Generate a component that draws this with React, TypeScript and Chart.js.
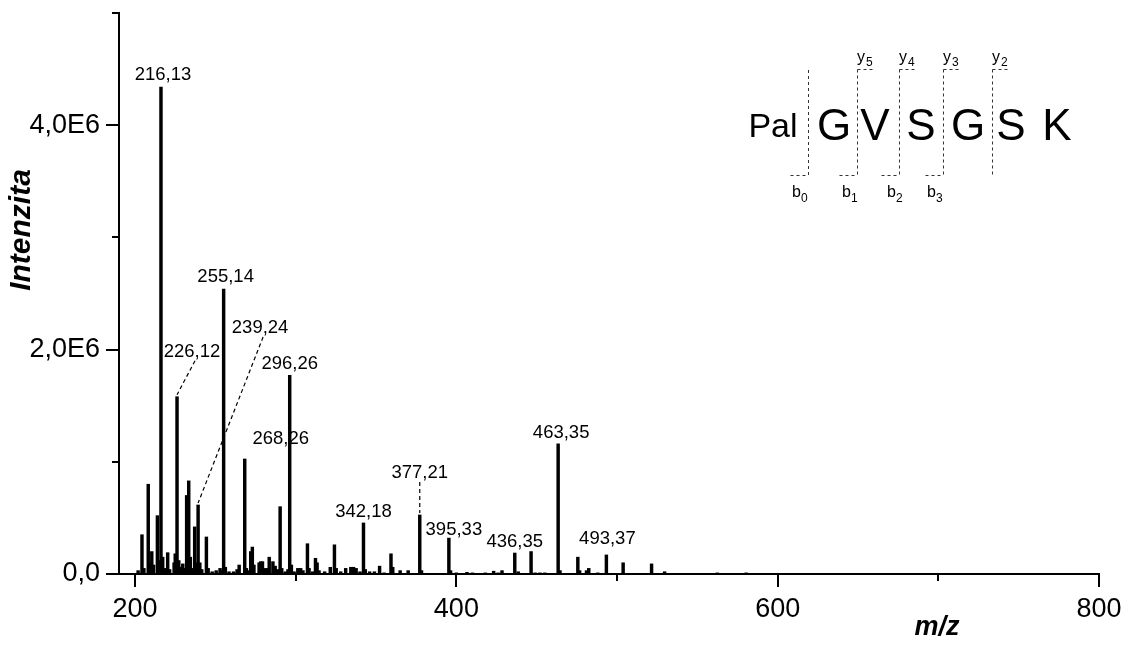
import React, { useEffect, useRef } from 'react';
import { Chart, registerables } from 'chart.js';

Chart.register(...registerables);

// ---- Data ----
const mzValues = [
  201.9, 204.3, 205.5, 208.2, 209.3, 210.4, 211.5, 213.9, 215.0, 216.13,
  217.2, 218.3, 220.3, 221.5, 224.3, 225.0, 226.12, 227.2, 228.3, 229.7,
  231.2, 232.1, 233.4, 234.4, 235.5, 237.1, 238.2, 239.24, 240.3, 241.5,
  244.4, 245.5, 248.0, 250.5, 252.9, 254.0, 255.14, 256.2, 258.5, 261.3,
  263.5, 264.8, 268.26, 269.3, 270.5, 272.0, 273.0, 274.0, 277.2, 278.2,
  279.3, 280.5, 282.5, 283.5, 285.8, 287.2, 288.5, 290.3, 291.3, 293.5,
  295.2, 296.26, 297.3, 299.0, 301.3, 303.1, 304.5, 307.3, 308.3, 310.5,
  312.3, 313.3, 314.5, 318.0, 321.5, 324.1, 325.2, 328.0, 331.1, 334.3,
  336.0, 337.6, 340.0, 342.18, 343.3, 346.0, 349.0, 352.2, 355.0, 359.3,
  360.4, 365.0, 370.0, 377.21, 378.3, 395.33, 396.4, 400.0, 406.6, 410.0,
  418.0, 423.2, 426.0, 428.4, 436.35, 438.5, 446.5, 449.0, 452.0, 455.0,
  463.35, 464.5, 475.6, 476.7, 481.0, 482.4, 488.0, 493.37, 503.8, 521.5,
  529.6, 545.0, 562.4, 570.0, 580.4,
];

const intensities = [
  0.03e6, 0.35e6, 0.05e6, 0.80e6, 0.10e6, 0.20e6, 0.08e6, 0.52e6, 0.12e6, 4.34e6,
  0.15e6, 0.05e6, 0.19e6, 0.04e6, 0.10e6, 0.18e6, 1.58e6, 0.12e6, 0.06e6, 0.09e6,
  0.05e6, 0.70e6, 0.83e6, 0.15e6, 0.05e6, 0.42e6, 0.10e6, 0.615e6, 0.10e6, 0.04e6,
  0.33e6, 0.05e6, 0.02e6, 0.03e6, 0.05e6, 0.03e6, 2.54e6, 0.06e6, 0.02e6, 0.02e6,
  0.04e6, 0.08e6, 1.025e6, 0.05e6, 0.03e6, 0.20e6, 0.24e6, 0.08e6, 0.10e6, 0.11e6,
  0.11e6, 0.05e6, 0.05e6, 0.15e6, 0.11e6, 0.07e6, 0.04e6, 0.60e6, 0.05e6, 0.02e6,
  0.04e6, 1.77e6, 0.08e6, 0.02e6, 0.05e6, 0.05e6, 0.03e6, 0.27e6, 0.05e6, 0.02e6,
  0.14e6, 0.10e6, 0.03e6, 0.02e6, 0.06e6, 0.26e6, 0.05e6, 0.02e6, 0.05e6, 0.06e6,
  0.06e6, 0.05e6, 0.02e6, 0.455e6, 0.04e6, 0.02e6, 0.02e6, 0.07e6, 0.01e6, 0.18e6,
  0.06e6, 0.03e6, 0.03e6, 0.526e6, 0.03e6, 0.32e6, 0.03e6, 0.01e6, 0.015e6, 0.01e6,
  0.01e6, 0.025e6, 0.01e6, 0.03e6, 0.187e6, 0.02e6, 0.20e6, 0.01e6, 0.01e6, 0.01e6,
  1.16e6, 0.03e6, 0.15e6, 0.03e6, 0.03e6, 0.05e6, 0.01e6, 0.17e6, 0.10e6, 0.09e6,
  0.02e6, 0.005e6, 0.01e6, 0.005e6, 0.01e6,
];

const labeledMz = [216.13, 226.12, 239.24, 255.14, 268.26, 296.26, 342.18, 377.21, 395.33, 436.35, 463.35, 493.37];
const labelTexts = ['216,13', '226,12', '239,24', '255,14', '268,26', '296,26', '342,18', '377,21', '395,33', '436,35', '463,35', '493,37'];

const xTickValues = [200, 300, 400, 500, 600, 700, 800];
const xMajorTicks = [200, 400, 600, 800];
const yTickValues = [0, 1e6, 2e6, 3e6, 4e6, 5e6];
const yMajorTicks = [0, 2e6, 4e6];
const yTickLabels = ['0,0', '2,0E6', '4,0E6'];

const residues = ['G', 'V', 'S', 'G', 'S', 'K'];
const bIons = ['0', '1', '2', '3'];
const yIons = ['5', '4', '3', '2'];

// ---- Layout (pixel offsets of annotations, not data) ----
const labelLayout = [
  { dx: 2, dy: -14, line: false },
  { dx: 15, dy: -46, line: true },
  { dx: 62, dy: -178, line: true },
  { dx: 2, dy: -14, line: false },
  { dx: 36, dy: -21, line: false },
  { dx: 0, dy: -13, line: false },
  { dx: 0, dy: -12, line: false },
  { dx: 0, dy: -43, line: true },
  { dx: 5, dy: -10, line: false },
  { dx: 0, dy: -13, line: false },
  { dx: 3, dy: -12, line: false },
  { dx: 1, dy: -17, line: false },
];

const FONT = "'Liberation Sans', Arial, Helvetica, sans-serif";

const overlayPlugin = {
  id: 'overlay',
  afterDraw(chart: any) {
    const ctx: CanvasRenderingContext2D = chart.ctx;
    const xs = chart.scales.x;
    const ys = chart.scales.y;
    ctx.save();
    ctx.strokeStyle = '#000';
    ctx.fillStyle = '#000';
    ctx.lineWidth = 2;

    // axis ticks
    xs.ticks.forEach((t: any) => {
      const major = xMajorTicks.includes(t.value);
      const px = Math.round(xs.getPixelForValue(t.value));
      ctx.beginPath();
      ctx.moveTo(px, ys.bottom);
      ctx.lineTo(px, ys.bottom + (major ? 13 : 7));
      ctx.stroke();
    });
    ys.ticks.forEach((t: any) => {
      const major = yMajorTicks.includes(t.value);
      const py = Math.round(ys.getPixelForValue(t.value));
      ctx.beginPath();
      ctx.moveTo(xs.left, py);
      ctx.lineTo(xs.left - (major ? 13 : 7), py);
      ctx.stroke();
    });

    // peak labels
    ctx.font = `18.5px ${FONT}`;
    ctx.textAlign = 'center';
    ctx.textBaseline = 'alphabetic';
    labeledMz.forEach((mz, i) => {
      const idx = mzValues.indexOf(mz);
      const px = xs.getPixelForValue(mz);
      const top = ys.getPixelForValue(intensities[idx]);
      const lay = labelLayout[i];
      const cx = px + lay.dx;
      const cy = top + lay.dy;
      ctx.fillText(labelTexts[i], cx, cy + 6.5);
      if (lay.line) {
        ctx.save();
        ctx.lineWidth = 1.2;
        ctx.setLineDash([4, 3]);
        ctx.beginPath();
        ctx.moveTo(cx + (lay.dx > 5 ? 3 : 0), cy + 10);
        ctx.lineTo(px, top - 2);
        ctx.stroke();
        ctx.restore();
      }
    });

    // axis titles
    ctx.font = `bold italic 27px ${FONT}`;
    ctx.textAlign = 'center';
    ctx.textBaseline = 'middle';
    ctx.fillText('m/z', 937, 628);
    ctx.save();
    ctx.translate(22, 230);
    ctx.rotate(-Math.PI / 2);
    ctx.font = `bold italic 30px ${FONT}`;
    ctx.fillText('Intenzita', 0, 0);
    ctx.restore();

    // sequence inset
    ctx.textAlign = 'center';
    ctx.textBaseline = 'alphabetic';
    ctx.font = `34px ${FONT}`;
    ctx.fillText('Pal', 773, 137);
    const resX = [834, 875, 921, 968, 1011, 1057];
    ctx.font = `44px ${FONT}`;
    residues.forEach((r, i) => ctx.fillText(r, resX[i], 140));

    ctx.save();
    ctx.strokeStyle = '#333';
    ctx.lineWidth = 1;
    ctx.setLineDash([3, 3]);
    const cut = [808.5, 857.5, 899.5, 943.5, 992.5];
    cut.forEach((x, i) => {
      ctx.beginPath();
      ctx.moveTo(x, i === 0 ? 70 : 69.5);
      ctx.lineTo(x, 175.5);
      ctx.stroke();
      if (i > 0) {
        ctx.beginPath();
        ctx.moveTo(x, 69.5);
        ctx.lineTo(x + 17, 69.5);
        ctx.stroke();
      }
      if (i < 4) {
        ctx.beginPath();
        ctx.moveTo(x - 18, 175.5);
        ctx.lineTo(x, 175.5);
        ctx.stroke();
      }
    });
    ctx.restore();

    ctx.textAlign = 'left';
    const yX = [857, 899, 943, 992];
    yIons.forEach((n, i) => {
      ctx.font = `16px ${FONT}`;
      ctx.fillText('y', yX[i], 62);
      ctx.font = `12px ${FONT}`;
      ctx.fillText(n, yX[i] + 9, 66);
    });
    const bX = [792, 842, 887, 927];
    bIons.forEach((n, i) => {
      ctx.font = `16px ${FONT}`;
      ctx.fillText('b', bX[i], 197);
      ctx.font = `12px ${FONT}`;
      ctx.fillText(n, bX[i] + 9, 202);
    });

    ctx.restore();
  },
};

export default function App() {
  const canvasRef = useRef<HTMLCanvasElement | null>(null);

  useEffect(() => {
    if (!canvasRef.current) return;
    Chart.defaults.font.family = FONT;
    const chart = new Chart(canvasRef.current, {
      type: 'bar',
      data: {
        datasets: [
          {
            data: mzValues.map((mz, i) => ({ x: mz, y: intensities[i] })),
            backgroundColor: '#000',
            borderWidth: 0,
            barThickness: 2.8,
          },
        ],
      },
      options: {
        responsive: false,
        animation: false,
        devicePixelRatio: 1,
        layout: { padding: { left: 0, right: 30, top: 13, bottom: 0 } },
        plugins: { legend: { display: false }, tooltip: { enabled: false } },
        events: [],
        scales: {
          x: {
            type: 'linear',
            min: 190,
            max: 800,
            offset: false,
            grid: { display: false, drawTicks: true, tickLength: 13 },
            border: { display: true, color: '#000', width: 2 },
            afterBuildTicks: (s: any) => {
              s.ticks = xTickValues.map((v) => ({ value: v }));
            },
            ticks: {
              autoSkip: false,
              maxRotation: 0,
              padding: 6,
              color: '#000',
              font: { size: 27, family: FONT },
              callback: (v: any) => (xMajorTicks.includes(Number(v)) ? String(v) : ''),
            },
            afterFit: (s: any) => {
              s.height = 74;
              s.paddingLeft = 0;
              s.paddingRight = 0;
            },
          },
          y: {
            min: 0,
            max: 5e6,
            grid: { display: false, drawTicks: true, tickLength: 13 },
            border: { display: true, color: '#000', width: 2 },
            afterBuildTicks: (s: any) => {
              s.ticks = yTickValues.map((v) => ({ value: v }));
            },
            ticks: {
              autoSkip: false,
              padding: 6,
              color: '#000',
              font: { size: 27, family: FONT },
              callback: (v: any) => {
                const k = yMajorTicks.indexOf(Number(v));
                return k >= 0 ? yTickLabels[k] : '';
              },
            },
            afterFit: (s: any) => {
              s.width = 119;
              s.paddingTop = 0;
              s.paddingBottom = 0;
            },
          },
        },
      } as any,
      plugins: [overlayPlugin],
    });
    return () => chart.destroy();
  }, []);

  return (
    <div style={{ position: 'fixed', left: 0, top: 0, width: 1129, height: 648, background: '#fff' }}>
      <canvas ref={canvasRef} width={1129} height={648} style={{ width: 1129, height: 648, display: 'block' }} />
    </div>
  );
}
